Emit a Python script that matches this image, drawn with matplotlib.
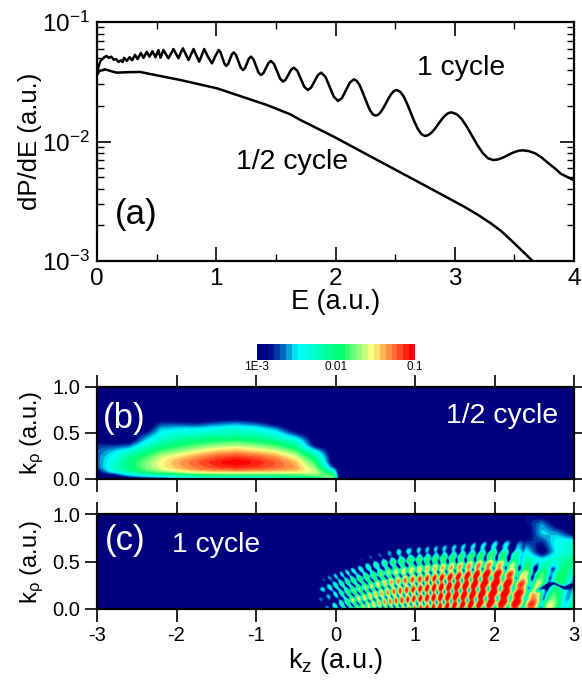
import numpy as np
import matplotlib
matplotlib.use("Agg")
import matplotlib.pyplot as plt
from matplotlib.colors import LinearSegmentedColormap, ListedColormap, Normalize
from matplotlib.ticker import NullFormatter

plt.rcParams.update({
    'font.family': ['Liberation Sans', 'DejaVu Sans'],
    'mathtext.fontset': 'custom', 'mathtext.rm': 'Liberation Sans',
    'mathtext.it': 'Liberation Sans', 'mathtext.bf': 'Liberation Sans',
    'mathtext.default': 'regular', 'axes.linewidth': 1.6,
})

# ---- panel (a): log10(dP/dE) against E
E_one = [0.0,0.01,0.02,0.03,0.045,0.06,0.08,0.10,0.12,0.14,0.16,0.18,0.20,0.215,0.227,0.25,0.273,0.295,0.319,0.34,0.368,0.39,0.417,0.44,0.465,0.49,0.515,0.533,0.557,
         0.578,0.599,0.62,0.641,0.662,0.683,0.70,0.720,0.744,0.768,0.789,0.810,0.833,0.857,0.878,0.899,0.93,0.964,0.990,1.020,
         1.036,1.052,1.068,1.084,1.100,1.115,1.131,1.146,1.166,1.185,1.205,1.224,1.241,1.258,1.274,1.291,1.312,1.333,1.354,1.375,1.396,1.417,1.438,1.459,
         1.484,1.510,1.535,1.560,1.582,1.605,1.628,1.650,1.680,1.709,1.738,1.768,1.796,1.824,1.852,1.880,1.916,1.951,1.986,2.022,2.055,2.088,2.121,2.154,
         2.177,2.200,2.222,2.245,2.268,2.290,2.313,2.336,2.358,2.380,2.402,2.425,2.447,2.469,2.491,2.513,
         2.543,2.573,2.602,2.632,2.662,2.692,2.721,2.751,2.779,2.806,2.834,2.862,2.889,2.917,2.944,2.972,
         3.016,3.060,3.103,3.147,3.191,3.235,3.278,3.322,3.353,3.384,3.415,3.446,3.476,3.507,3.538,3.569,
         3.62,3.676,3.73,3.783,3.84,3.890,3.94,4.0]
L_one = [-1.416,-1.385,-1.35,-1.325,-1.31,-1.295,-1.285,-1.30,-1.29,-1.315,-1.31,-1.335,-1.32,-1.335,-1.30,-1.325,-1.295,-1.32,-1.275,-1.31,-1.26,-1.30,-1.25,-1.29,-1.245,-1.295,-1.235,-1.30,-1.234,
         -1.27,-1.304,-1.265,-1.226,-1.265,-1.304,-1.262,-1.220,-1.27,-1.318,-1.27,-1.226,-1.28,-1.332,-1.28,-1.226,-1.29,-1.346,-1.29,-1.234,
         -1.254,-1.301,-1.348,-1.368,-1.351,-1.311,-1.271,-1.254,-1.276,-1.328,-1.380,-1.402,-1.386,-1.346,-1.306,-1.290,-1.312,-1.367,-1.422,-1.444,-1.427,-1.385,-1.343,-1.326,
         -1.351,-1.412,-1.474,-1.499,-1.482,-1.440,-1.399,-1.382,-1.409,-1.475,-1.542,-1.569,-1.548,-1.496,-1.445,-1.424,-1.459,-1.542,-1.626,-1.661,-1.635,-1.570,-1.506,-1.480,
         -1.492,-1.524,-1.574,-1.632,-1.690,-1.740,-1.772,-1.784,-1.776,-1.753,-1.718,-1.676,-1.635,-1.600,-1.577,-1.569,
         -1.584,-1.625,-1.688,-1.762,-1.835,-1.898,-1.939,-1.954,-1.946,-1.925,-1.893,-1.855,-1.817,-1.785,-1.763,-1.756,
         -1.771,-1.814,-1.879,-1.956,-2.032,-2.097,-2.140,-2.155,-2.152,-2.143,-2.130,-2.114,-2.099,-2.086,-2.077,-2.074,
         -2.08,-2.100,-2.135,-2.180,-2.225,-2.270,-2.295,-2.325]
E_half = [0.0,0.02,0.067,0.12,0.165,0.26,0.361,0.52,0.697,1.006,1.426,1.622,1.706,1.986,2.35,2.742,3.078,3.2,3.303,3.39,3.47,3.56,3.653,3.72]
L_half = [-1.444,-1.41,-1.396,-1.412,-1.424,-1.420,-1.418,-1.45,-1.485,-1.555,-1.695,-1.773,-1.820,-1.960,-2.155,-2.364,-2.545,-2.617,-2.685,-2.75,-2.824,-2.91,-3.0,-3.07]

y_minor = [2e-3,3e-3,4e-3,5e-3,6e-3,7e-3,8e-3,9e-3,2e-2,3e-2,4e-2,5e-2,6e-2,7e-2,8e-2,9e-2]

# ---- panel (b): log10 yield on a coarse read-off grid
kz_b = [-3,-2.8,-2.6,-2.4,-2.2,-2.0,-1.75,-1.5,-1.25,-1.0,-0.75,-0.5,-0.25,-0.03,0.05]
kp_b = [0,.04,.08,.12,.18,.24,.3,.36,.42,.48,.54,.6,.66]
grid_b = [
 [-3,-3,-2.9,-2.7,-2.68,-2.68,-2.7,-2.75,-3,-3,-3,-3,-3],
 [-3,-2.9,-2.35,-2.3,-2.35,-2.42,-2.55,-2.75,-3,-3,-3,-3,-3],
 [-3,-2.5,-2.1,-2.0,-2.0,-2.1,-2.35,-2.7,-3,-3,-3,-3,-3],
 [-2.9,-2.3,-1.85,-1.75,-1.75,-1.88,-2.05,-2.3,-2.55,-2.75,-3,-3,-3],
 [-2.8,-2.2,-1.7,-1.55,-1.55,-1.62,-1.85,-2.05,-2.25,-2.42,-2.55,-2.75,-3],
 [-2.7,-2.1,-1.55,-1.42,-1.38,-1.5,-1.72,-1.95,-2.12,-2.3,-2.5,-2.75,-3],
 [-2.6,-1.95,-1.42,-1.28,-1.22,-1.35,-1.58,-1.8,-2.02,-2.25,-2.48,-2.8,-3],
 [-2.5,-1.9,-1.38,-1.16,-1.08,-1.22,-1.45,-1.7,-1.95,-2.2,-2.4,-2.7,-3],
 [-2.5,-1.9,-1.36,-1.12,-0.98,-1.15,-1.4,-1.65,-1.92,-2.15,-2.35,-2.62,-2.95],
 [-2.5,-1.9,-1.38,-1.16,-1.08,-1.22,-1.47,-1.72,-1.98,-2.2,-2.4,-2.72,-3],
 [-2.45,-1.85,-1.42,-1.25,-1.22,-1.35,-1.58,-1.85,-2.1,-2.35,-2.6,-2.92,-3],
 [-2.4,-1.8,-1.45,-1.36,-1.42,-1.58,-1.82,-2.1,-2.35,-2.72,-3,-3,-3],
 [-2.1,-1.68,-1.6,-1.72,-1.88,-2.1,-2.45,-2.9,-3,-3,-3,-3,-3],
 [-1.6,-1.85,-2.2,-2.7,-3,-3,-3,-3,-3,-3,-3,-3,-3],
 [-3,-3,-3,-3,-3,-3,-3,-3,-3,-3,-3,-3,-3],
]

# ---- panel (c): ridge-top log10 yield
kz_c = [-3,-0.25,-0.2,0,.2,.4,.6,.8,1.0,1.2,1.4,1.6,1.8,2.0,2.2,2.4,2.6,2.8,3.0]
kp_c = [0,.1,.2,.3,.4,.5,.6,.7,.8,.9,1.0]
grid_c = [
 [-3]*11,
 [-3]*11,
 [-3,-2.6,-2.5,-2.8,-3,-3,-3,-3,-3,-3,-3],
 [-2.1,-2.6,-2.1,-2.2,-2.7,-3,-3,-3,-3,-3,-3],
 [-1.75,-1.55,-1.8,-1.95,-2.3,-3,-3,-3,-3,-3,-3],
 [-1.55,-1.35,-1.55,-1.7,-2.05,-2.45,-3,-3,-3,-3,-3],
 [-1.4,-1.2,-1.35,-1.45,-1.75,-2.15,-2.75,-3,-3,-3,-3],
 [-1.3,-1.05,-1.1,-1.2,-1.5,-1.85,-2.35,-3,-3,-3,-3],
 [-1.15,-.95,-1.0,-1.05,-1.35,-1.7,-2.25,-2.95,-3,-3,-3],
 [-1.05,-.88,-.88,-.95,-1.25,-1.65,-2.25,-2.9,-3,-3,-3],
 [-.95,-.8,-.8,-.85,-1.15,-1.55,-2.15,-2.8,-3,-3,-3],
 [-.9,-.75,-.75,-.78,-1.05,-1.5,-2.1,-2.7,-3,-3,-3],
 [-.9,-.75,-.75,-.7,-.9,-1.4,-2.05,-2.6,-3,-3,-3],
 [-.9,-.75,-.75,-.7,-.85,-1.4,-1.95,-2.5,-3,-3,-3],
 [-.95,-.8,-.85,-.9,-1.2,-1.7,-2.1,-2.5,-3,-3,-3],
 [-1.0,-.95,-1.1,-1.3,-1.7,-2.1,-2.4,-2.75,-3,-2.85,-2.75],
 [-1.3,-1.4,-1.75,-1.7,-1.9,-2.3,-3,-2.8,-2.5,-2.6,-3],
 [-1.7,-1.8,-2,-1.85,-1.95,-2.15,-2.4,-2.35,-2.6,-3,-3],
 [-1.9,-2.0,-2,-1.95,-1.85,-2.05,-2.25,-2.3,-2.95,-3,-3],
]
# fringe maxima along kp = 0, their lean, and the cross-fringe rows
ridge_kz = [-0.35,-0.2,-0.1,0.02,0.12,0.20,0.28,0.36,0.43,0.50,0.57,0.64,0.71,0.78,0.85,0.92,0.99,1.07,1.15,1.23,1.31,1.40,1.49,1.59,1.69,1.80,1.93,2.08,2.25,2.46,2.70,3.05]
lean_kz = [-0.2,0.2,0.6,1.0,1.5,2.0,2.5,3.0]
lean_val = [-0.9,-0.7,-0.35,-0.05,0.15,0.3,0.38,0.4]
row_kp = [-0.1,0.0,0.105,0.21,0.315,0.42,0.525,0.63,0.735,0.84,0.945,1.05,1.2,1.4]
row_kz = [-0.2,0.2,0.6,1.0,1.5,2.0,2.5,3.0]
row_shift = [0.22,0.12,0.04,0.0,-0.03,-0.06,-0.06,-0.06]
cross_kz = [-0.2,1.0,1.6,2.1,2.5,3.0]
cross_amp = [0.3,0.42,0.3,0.2,0.08,0.0]
gap_kz = [2.5,2.62,2.75,2.88,3.0]
gap_kp = [0.17,0.23,0.27,0.22,0.25]

cb_ticks = [-3,-2,-1]
cb_labels = ['1E-3','0.01','0.1']

W, H = 582, 681
fig = plt.figure(figsize=(W/100, H/100), dpi=100)
def box(l, t, r, b):
    return [l/W, 1-b/H, (r-l)/W, (b-t)/H]

ax = fig.add_axes(box(97, 22, 574, 261))
ax.set_yscale('log')
ax.plot(E_one, 10**np.array(L_one), color='k', lw=1.8)
ax.plot(E_half, 10**np.array(L_half), color='k', lw=1.8)
ax.set_xlim(0, 4); ax.set_ylim(1e-3, 1e-1)
ax.set_xticks([0,1,2,3,4]); ax.set_xticks([.5,1.5,2.5,3.5], minor=True)
ax.set_yticks([1e-3,1e-2,1e-1], ['10$^{-3}$','10$^{-2}$','10$^{-1}$'])
ax.set_yticks(y_minor, minor=True)
ax.yaxis.set_minor_formatter(NullFormatter())
ax.tick_params(which='major', direction='in', length=10, width=1.2, top=True, right=True, labelsize=17.5, pad=5)
ax.tick_params(which='minor', direction='in', length=5, width=1.0, top=True, right=True)
ax.set_xlabel('E (a.u.)', fontsize=19.5, labelpad=-1)
ax.set_ylabel('dP/dE (a.u.)', fontsize=18.5, labelpad=0)
def ptext(x, y, s, size, color='k'):
    fig.text(x/W, 1-y/H, s, fontsize=size, color=color, ha='left', va='baseline')
ptext(115, 224, '(a)', 25)
ptext(417, 75, '1 cycle', 20.3)
ptext(236, 169, '1/2 cycle', 20.5)

# colour scale
nodes = [(0,(0,0,.5)),(.06,(0,0,.5)),(.14,(0,.33,.72)),(.25,(0,1,1)),(.40,(0,1,.72)),(.53,(0,1,.42)),
         (.65,(.55,1,.5)),(.74,(1,1,.5)),(.82,(1,.66,.3)),(.92,(1,.3,.15)),(1,(1,0,0))]
base = LinearSegmentedColormap.from_list('scale', nodes)
cmap = ListedColormap(base(np.linspace(0, 1, 27)))
norm = Normalize(-3, -1)

def grid_interp(xs, ys, table, X, Y):
    T = np.array(table, float)
    along_y = np.array([np.interp(Y, ys, col) for col in T])
    return np.array([np.interp(X, xs, along_y[:, j]) for j in range(len(Y))])

def blur(F, n):
    k = np.ones(2*n+1)/(2*n+1)
    P = np.pad(F, n, mode='edge')
    P = np.apply_along_axis(np.convolve, 0, P, k, 'same')
    P = np.apply_along_axis(np.convolve, 1, P, k, 'same')
    return P[n:-n, n:-n]

X = np.linspace(-3, 3, 1200)
Yb = np.linspace(0, 1, 240)
Fb = blur(grid_interp(kz_b, kp_b, grid_b, X, Yb), 4)

Yc = np.linspace(0, 1, 240)
KZ, KP = np.meshgrid(X, Yc)
Env = blur(grid_interp(kz_c, kp_c, grid_c, X, Yc), 5)
xe = KZ - np.interp(KZ, lean_kz, lean_val)*KP
ph1 = 2*np.pi*np.interp(xe, ridge_kz, np.arange(len(ridge_kz)))
ke = KP + np.interp(KZ, row_kz, row_shift)
ph2 = 2*np.pi*np.interp(ke, row_kp, np.arange(len(row_kp)))
a2 = np.interp(KZ, cross_kz, cross_amp)
fade = 1 - np.clip((KP-.42)/.1, 0, 1)*np.clip((KZ-2.25)/.15, 0, 1)
a1 = 0.6*np.clip((KZ+0.3)/0.3, 0, 1)*np.clip((3.0-KZ)/0.4, 0.6, 1)*fade
a2 = a2*fade
amp = np.abs(1 + a1*np.exp(1j*ph1) + a2*np.exp(1j*ph2))**2/(1+a1+a2)**2
Fc = Env + 1.0*np.log10(np.maximum(amp, 1e-3))
gap = np.interp(KZ, gap_kz, gap_kp)
Fc -= 1.0*np.exp(-((KP-gap)/0.018)**2)*np.clip((KZ-2.5)/.05, 0, 1)
Fc = np.maximum(Fc, -3)
Fc = blur(Fc, 1)

axb = fig.add_axes(box(97, 387, 574, 479))
axc = fig.add_axes(box(97, 514, 574, 609))
for a, F in ((axb, Fb), (axc, Fc)):
    im = a.imshow(F, extent=[-3, 3, 0, 1], origin='lower', aspect='auto', cmap=cmap, norm=norm, interpolation='bilinear')
    a.set_xlim(-3, 3); a.set_ylim(0, 1)
    a.set_xticks([-3,-2,-1,0,1,2,3], ['-3','-2','-1','0','1','2','3'])
    a.set_yticks([0,.5,1], ['0.0','0.5','1.0'])
    a.tick_params(direction='out', length=9, width=1.2, top=True, right=True, labelsize=14.5, pad=3)
    a.set_ylabel(r'k$_{\rho}$ (a.u.)', fontsize=17, labelpad=5)
axb.tick_params(labelbottom=False)
axc.set_xlabel('k$_{z}$ (a.u.)', fontsize=19.5, labelpad=1)
ptext(103, 428, '(b)', 25, 'w')
ptext(446, 423, '1/2 cycle', 20.5, 'w')
ptext(105, 550, '(c)', 25, 'w')
ptext(172, 552, '1 cycle', 20.3, 'w')

cax = fig.add_axes(box(256.5, 344, 415, 360))
cb = fig.colorbar(im, cax=cax, orientation='horizontal', ticks=cb_ticks)
cb.set_ticklabels(cb_labels)
cb.outline.set_visible(False)
cb.ax.tick_params(length=0, labelsize=8.5, pad=1)
fig.savefig('out.png', dpi=100)
